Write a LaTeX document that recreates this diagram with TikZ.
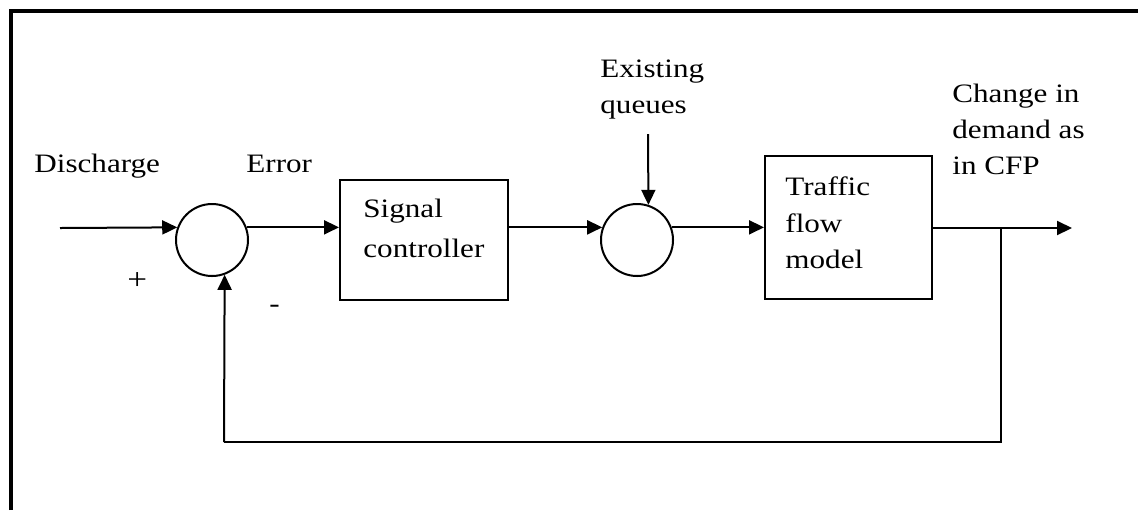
\documentclass[tikz,border=0pt]{standalone}
\usepackage{fontspec}
\setmainfont[FakeStretch=1.17]{Liberation Serif}
\usetikzlibrary{arrows.meta}
\begin{document}
\begin{tikzpicture}[x=0.5pt,y=-0.5pt,
  lbl/.style={anchor=base west,inner sep=0pt,font=\fontsize{13.3}{18}\selectfont},
  sumnode/.style={draw,circle,line width=1pt,minimum size=36pt,inner sep=0pt},
  block/.style={draw,rectangle,line width=1pt,inner sep=0pt},
  conn/.style={line width=1pt,-{Triangle[length=7.5pt,width=7pt]}},
  plain/.style={line width=1pt},
  frame/.style={line width=2pt}]
\useasboundingbox (0,0) rectangle (1138,510);
% outer frame (left and top only visible)
\draw[frame] (11,510) -- (11,11) -- (1138,11);
% blocks
\node[sumnode] (c1) at (212,240) {};
\node[sumnode] (c2) at (637,240) {};
\node[block,minimum width=84pt,minimum height=60pt] (sc) at (424,240) {};
\node[block,minimum width=83.5pt,minimum height=71.5pt] (tf) at (848.5,227.5) {};
% coordinates
\coordinate (in) at (60,228);
\coordinate (out) at (1072,228);
\coordinate (q) at (648,134);
\coordinate (br) at (1001,228);
\coordinate (fbR) at (1001,442);
\coordinate (fbL) at (224,442);
% connectors
\draw[conn] (in) -- (c1.160);
\draw[conn] (c1.20) -- (c1.20 -| sc.west);
\draw[conn] (sc.east |- c2.160) -- (c2.160);
\draw[conn] (c2.20) -- (c2.20 -| tf.west);
\draw[conn] (q) -- (c2.72);
\draw[conn] (tf.east |- out) -- (out);
\draw[plain] (br) -- (fbR) -- (fbL);
\draw[conn] (fbL) -- (c1.-70);
% labels
\node[lbl] (t1) at (34,172) {Discharge};
\node[lbl] (t2) at (246,172) {Error};
\node[lbl] (t3) at (600,77) {Existing};
\node[lbl] (t4) at (600,113) {queues};
\node[lbl] (t5) at (952,102) {Change in};
\node[lbl] (t6) at (952,138) {demand as};
\node[lbl] (t7) at (952,174) {in CFP};
\node[lbl] (t8) at (363,217) {Signal};
\node[lbl] (t9) at (363,257) {controller};
\node[lbl] (t10) at (785,195) {Traffic};
\node[lbl] (t11) at (785,232) {flow};
\node[lbl] (t12) at (785,268) {model};
\node[lbl,font=\fontsize{15}{18}\selectfont] (p) at (127,289) {+};
\node[lbl] (m) at (269,312) {-};
\end{tikzpicture}
\end{document}
